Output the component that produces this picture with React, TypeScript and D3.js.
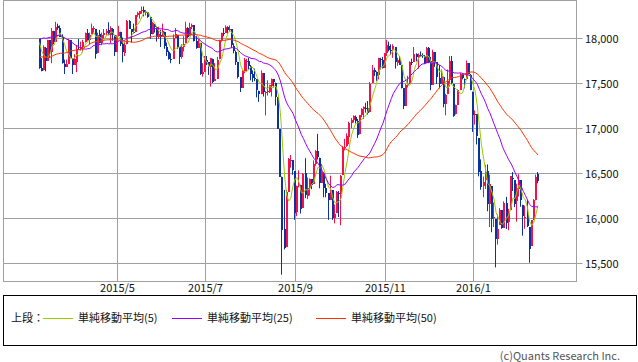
import React from "react";
import * as d3 from "d3";

// closes before the first visible day (needed to warm up the moving averages)
const priorCloses = [
  18054, 18038, 17983, 17823,
  17833, 17502, 17372, 17585, 17908, 17737, 17641, 17614, 17427, 17321, 17512, 17515, 17554, 17814, 17673, 17679, 17387, 17191, 17417, 17165,
  17361, 17666, 17673, 17885, 17824, 17729, 17869, 17862, 17972, 18019, 18048, 18030, 17986, 18140, 18117, 18209, 18225, 18214, 18133,
  18289, 18203, 18097, 18136, 17857, 17996,
];

// [open, high, low, close]
const mar15 = [
  [17990, 17990, 17658, 17662], [17665, 17776, 17630, 17635], [17640, 17918, 17640, 17895], [17890, 17900, 17630, 17749],
  [17750, 17980, 17750, 17977], [17975, 17975, 17780, 17849], [17850, 18110, 17720, 18076], [18075, 18080, 17930, 17959],
  [17960, 18180, 17960, 18127], [18130, 18160, 18090, 18116], [18115, 18140, 18010, 18011], [18010, 18040, 17715, 17718],
  [17715, 17760, 17600, 17678], [17680, 17760, 17680, 17712], [17715, 17990, 17715, 17976], [17975, 17975, 17775, 17776],
];
const apr15 = [
  [17775, 17775, 17600, 17698], [17700, 17820, 17700, 17763], [17730, 17920, 17620, 17881], [17880, 17990, 17870, 17875],
  [17875, 17960, 17860, 17903], [17900, 17980, 17840, 17959], [17960, 18060, 17950, 18058], [18060, 18100, 17970, 17977],
  [17975, 18060, 17930, 18037], [18040, 18160, 18040, 18113], [18100, 18130, 18060, 18106], [18100, 18100, 17770, 17826],
  [17830, 18060, 17830, 18035], [18040, 18090, 17940, 17950], [17950, 18060, 17920, 18038], [18030, 18100, 17990, 18059],
  [18060, 18100, 18030, 18080], [18085, 18175, 18030, 18038], [18035, 18130, 17940, 18110], [18105, 18110, 17970, 18036],
  [18030, 18030, 17800, 17841],
];
const may15 = [
  [17845, 18030, 17845, 18024], [18025, 18135, 18025, 18070], [18065, 18070, 17910, 17928], [17930, 18005, 17730, 17842],
  [17835, 17950, 17800, 17924], [17930, 18200, 17930, 18191], [18190, 18200, 18100, 18105], [18100, 18100, 17950, 18068],
  [18070, 18160, 18050, 18060], [18065, 18255, 18065, 18252], [18255, 18290, 18235, 18273], [18265, 18300, 18215, 18299],
  [18300, 18350, 18270, 18312], [18310, 18350, 18240, 18285], [18280, 18310, 18250, 18286], [18285, 18285, 18225, 18232],
  [18230, 18230, 17990, 18042], [18045, 18180, 18040, 18163], [18155, 18155, 18060, 18126], [18125, 18130, 17960, 18011],
];
const jun15 = [
  [18015, 18125, 17990, 18040], [18035, 18090, 17900, 18012], [18015, 18160, 18015, 18076], [18070, 18070, 17880, 17906],
  [17905, 17950, 17800, 17849], [17850, 17860, 17760, 17767], [17765, 17830, 17720, 17764], [17770, 18040, 17770, 18000],
  [18005, 18110, 18005, 18039], [18035, 18035, 17880, 17899], [17895, 17895, 17710, 17791], [17790, 17930, 17770, 17904],
  [17905, 18020, 17850, 17936], [17940, 18180, 17940, 18116], [18115, 18120, 18000, 18016], [18020, 18170, 18020, 18120],
  [18120, 18160, 18100, 18144], [18140, 18140, 17960, 17966], [17970, 18020, 17880, 17890], [17890, 17990, 17890, 17947],
  [17945, 17945, 17590, 17596], [17600, 17720, 17570, 17620],
];
const jul15 = [
  [17625, 17800, 17625, 17758], [17755, 17800, 17700, 17730], [17730, 17730, 17590, 17684], [17680, 17780, 17460, 17777],
  [17770, 17770, 17500, 17515], [17520, 17720, 17520, 17549], [17550, 17790, 17550, 17760], [17765, 17980, 17765, 17978],
  [17975, 18060, 17960, 18054], [18055, 18110, 18020, 18050], [18055, 18140, 18055, 18120], [18120, 18130, 18050, 18086],
  [18090, 18140, 18070, 18100], [18100, 18100, 17890, 17919], [17915, 17940, 17830, 17851], [17850, 17860, 17700, 17732],
  [17735, 17735, 17550, 17569], [17565, 17565, 17400, 17441], [17445, 17640, 17445, 17630], [17635, 17780, 17610, 17751],
  [17740, 17770, 17630, 17746], [17750, 17780, 17650, 17690],
];
const aug15 = [
  [17690, 17700, 17530, 17598], [17595, 17640, 17510, 17551], [17555, 17660, 17520, 17540], [17540, 17540, 17340, 17420],
  [17415, 17415, 17290, 17373], [17375, 17640, 17375, 17615], [17610, 17610, 17350, 17403], [17395, 17410, 17140, 17403],
  [17405, 17530, 17360, 17408], [17405, 17480, 17390, 17477], [17470, 17550, 17350, 17545], [17545, 17545, 17450, 17511],
  [17505, 17505, 17250, 17349], [17345, 17345, 16990, 16991], [16990, 16990, 16460, 16460], [16460, 16460, 15370, 15871],
  [15880, 16312, 15651, 15666], [15676, 16312, 15676, 16286], [16290, 16666, 16290, 16655], [16640, 16700, 16560, 16643],
  [16640, 16640, 16480, 16528],
];
const sep15 = [
  [16520, 16520, 15980, 16058], [16065, 16360, 16020, 16351], [16355, 16530, 16340, 16375], [16370, 16370, 16050, 16102],
  [16110, 16500, 16110, 16493], [16500, 16665, 16220, 16254], [16250, 16450, 16210, 16330], [16330, 16440, 16250, 16433],
  [16430, 16430, 16320, 16371], [16380, 16640, 16380, 16600], [16600, 16755, 16580, 16740], [16740, 16935, 16650, 16675],
  [16670, 16670, 16330, 16385], [16390, 16600, 16390, 16510], [16505, 16505, 16230, 16330], [16330, 16380, 16230, 16280],
  [16275, 16275, 15980, 16201], [16205, 16470, 16205, 16315], [16310, 16310, 15980, 16002], [16000, 16150, 15940, 16049],
  [16060, 16300, 16060, 16285],
];
const oct15 = [
  [16280, 16300, 16010, 16272], [16270, 16480, 15920, 16472], [16480, 16800, 16480, 16776], [16775, 16880, 16750, 16790],
  [16795, 16940, 16790, 16912], [16905, 17070, 16820, 17051], [17055, 17110, 17000, 17084], [17085, 17140, 17060, 17132],
  [17120, 17140, 17050, 17082], [17080, 17100, 16890, 16925], [16930, 17145, 16930, 17142], [17145, 17220, 17120, 17216],
  [17210, 17240, 17100, 17231], [17225, 17280, 17170, 17217], [17220, 17300, 17150, 17169], [17175, 17510, 17175, 17489],
  [17500, 17700, 17500, 17647], [17645, 17670, 17580, 17623], [17620, 17630, 17520, 17581], [17585, 17780, 17540, 17780],
  [17770, 17780, 17650, 17756], [17760, 17790, 17660, 17664],
];
const nov15 = [
  [17670, 17830, 17670, 17829], [17830, 17980, 17800, 17918], [17915, 17960, 17850, 17868], [17870, 17930, 17810, 17863],
  [17865, 17930, 17780, 17910], [17900, 17900, 17660, 17730], [17725, 17780, 17690, 17758], [17760, 17800, 17700, 17702],
  [17700, 17700, 17440, 17448], [17445, 17445, 17210, 17245], [17245, 17490, 17245, 17483], [17485, 17580, 17450, 17490],
  [17490, 17740, 17490, 17737], [17735, 17770, 17700, 17733], [17735, 17900, 17735, 17824], [17820, 17830, 17740, 17793],
  [17790, 17830, 17660, 17812], [17815, 17850, 17790, 17813], [17810, 17830, 17780, 17798], [17800, 17810, 17710, 17720],
];
const dec15 = [
  [17720, 17900, 17720, 17888], [17890, 17900, 17720, 17730], [17740, 17790, 17420, 17478], [17480, 17870, 17480, 17848],
  [17840, 17840, 17680, 17731], [17730, 17730, 17490, 17568], [17560, 17700, 17440, 17492], [17490, 17650, 17490, 17575],
  [17570, 17570, 17230, 17265], [17270, 17380, 17140, 17369], [17375, 17650, 17375, 17525], [17530, 17800, 17460, 17749],
  [17750, 17800, 17490, 17496], [17490, 17490, 17125, 17129], [17150, 17260, 17150, 17252], [17255, 17430, 17255, 17417],
  [17420, 17610, 17420, 17603], [17600, 17610, 17540, 17552], [17540, 17550, 17440, 17528], [17540, 17750, 17540, 17721],
  [17720, 17720, 17600, 17604], [17590, 17600, 17420, 17425],
];
const jan16 = [
  [17405, 17405, 16957, 17149], [17147, 17195, 17038, 17159], [17154, 17154, 16817, 16907], [16889, 16889, 16463, 16514],
  [16519, 16651, 16314, 16346], [16358, 16461, 16232, 16399], [16420, 16591, 16322, 16516], [16527, 16595, 16075, 16151],
  [16155, 16482, 15900, 16379], [16355, 16355, 15842, 15988], [16009, 16172, 15900, 16016], [15989, 15989, 15451, 15767],
  [15768, 16038, 15704, 15883], [15921, 16109, 15921, 16094], [16087, 16087, 15881, 15885], [15893, 16185, 15893, 16167],
  [16168, 16235, 15878, 15944], [15960, 16102, 15863, 16070], [16091, 16466, 16091, 16466],
];
const feb16 = [
  [16450, 16510, 16300, 16449], [16420, 16420, 16121, 16154], [16187, 16381, 15960, 16337], [16327, 16487, 16238, 16417],
  [16417, 16417, 16125, 16205], [16147, 16147, 15803, 16027], [16005, 16137, 15881, 16014], [16035, 16201, 15899, 15915],
  [15897, 15897, 15503, 15660], [15691, 15974, 15691, 15974], [15983, 16210, 15983, 16196], [16197, 16482, 16197, 16454],
  [16486, 16511, 16385, 16413],
];

const monthLabels = ["2015/3", "2015/4", "2015/5", "2015/6", "2015/7", "2015/8", "2015/9", "2015/10", "2015/11", "2015/12", "2016/1", "2016/2"];
const monthData = [mar15, apr15, may15, jun15, jul15, aug15, sep15, oct15, nov15, dec15, jan16, feb16];
const tickLabels = ["2015/5", "2015/7", "2015/9", "2015/11", "2016/1"];
const yTicks = [15500, 16000, 16500, 17000, 17500, 18000];
const maPeriods = [5, 25, 50];
const maColors = ["#99cc00", "#9900ff", "#ff3300"];
const legendNames = ["単純移動平均(5)", "単純移動平均(25)", "単純移動平均(50)"];

const W = 638;
const H = 362;
const FONT = "'Noto Sans CJK JP', 'Noto Sans', sans-serif";
const UP = "#f5104a";
const DOWN = "#0a33a0";
const GRID = "#a0a0a0";

export default function App() {
  const candles = monthData.flat();
  const n = candles.length;
  const monthStart: number[] = [];
  let acc = 0;
  monthData.forEach((m) => {
    monthStart.push(acc);
    acc += m.length;
  });

  const x = d3.scaleLinear().domain([0, n - 1]).range([39.5, 538]);
  const y = d3.scaleLinear().domain([15500, 18000]).range([263, 38]);

  const allCloses = priorCloses.concat(candles.map((d) => d[3]));
  const off = priorCloses.length;
  const maSeries = maPeriods.map((p) =>
    candles.map((_, i) => d3.mean(allCloses.slice(off + i - p + 1, off + i + 1)) as number)
  );
  const line = d3
    .line<number>()
    .x((_, i) => x(i))
    .y((d) => y(d));

  const left = 3.5;
  const right = 576.5;
  const top = 0.5;
  const bottom = 281.5;

  return (
    <svg
      width={W}
      height={H}
      style={{ position: "absolute", left: 0, top: 0, background: "#fff" }}
      fontFamily={FONT}
    >
      <rect x={0} y={0} width={W} height={H} fill="#fff" />

      {/* grid */}
      {yTicks.map((t) => {
        const yy = Math.round(y(t)) + 0.5;
        return (
          <g key={t}>
            <line x1={left} x2={right + 6} y1={yy} y2={yy} stroke={GRID} />
            <text x={585} y={yy + 4} fontSize={11} fill="#111">
              {d3.format(",")(t)}
            </text>
          </g>
        );
      })}
      {tickLabels.map((lab) => {
        const i = monthStart[monthLabels.indexOf(lab)];
        const xx = Math.round(x(i)) + 0.5;
        return (
          <g key={lab}>
            <line x1={xx} x2={xx} y1={top} y2={bottom} stroke={GRID} />
            <text x={xx} y={292} fontSize={11} textAnchor="middle" fill="#111">
              {lab}
            </text>
          </g>
        );
      })}
      <rect x={left} y={top} width={right - left} height={bottom - top} fill="none" stroke={GRID} />

      {/* candles */}
      {candles.map((d, i) => {
        const [o, h, l, c] = d;
        const col = c >= o ? UP : DOWN;
        const cx = Math.round(x(i));
        const yTop = Math.round(y(Math.max(o, c)));
        const yBot = Math.round(y(Math.min(o, c)));
        return (
          <g key={i}>
            <line x1={cx - 0.5} x2={cx - 0.5} y1={y(h)} y2={y(l)} stroke={col} />
            <rect x={cx - 1} y={yTop} width={2} height={Math.max(1, yBot - yTop)} fill={col} />
          </g>
        );
      })}

      {/* moving averages */}
      {maSeries.map((s, k) => (
        <path key={k} d={line(s) ?? ""} fill="none" stroke={maColors[k]} strokeWidth={1} />
      ))}

      {/* legend */}
      <rect x={3.5} y={295.5} width={633} height={50} fill="none" stroke="#000" />
      <text x={11} y={322} fontSize={11} fill="#111">
        上段：
      </text>
      {legendNames.map((name, k) => {
        const lx = [43, 172, 316][k];
        return (
          <g key={name}>
            <line x1={lx} x2={lx + 30} y1={318.5} y2={318.5} stroke={maColors[k]} />
            <text x={lx + 35} y={322} fontSize={11} fill="#111">
              {name}
            </text>
          </g>
        );
      })}
      <text x={620} y={360} fontSize={11} textAnchor="end" fill="#555">
        (c)Quants Research Inc.
      </text>
    </svg>
  );
}
